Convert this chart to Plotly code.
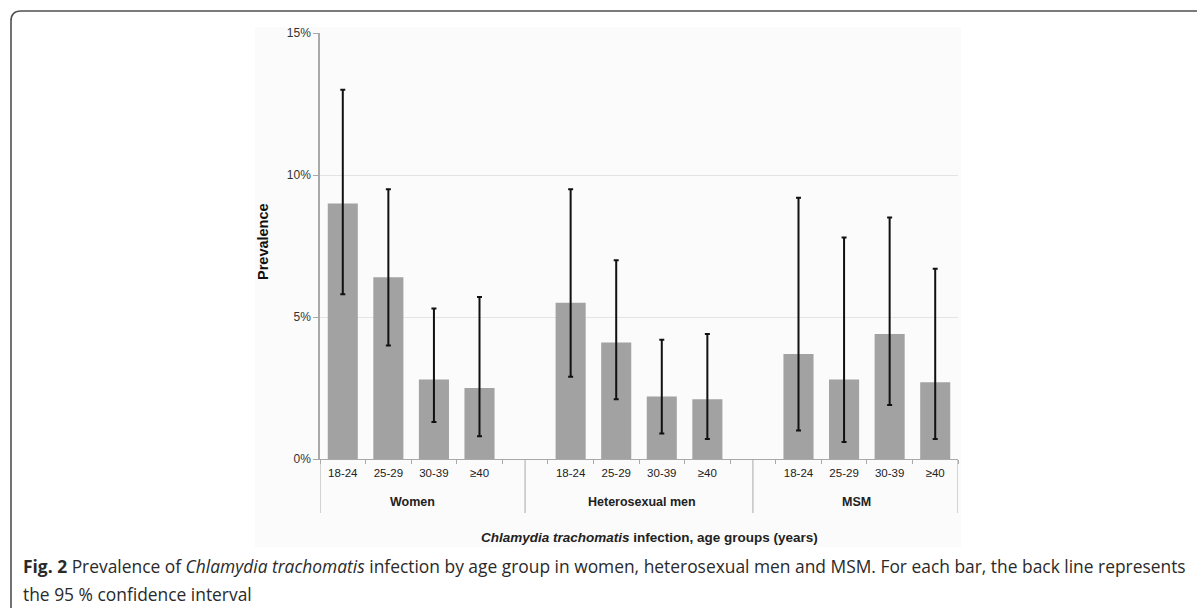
import plotly.graph_objects as go

# ---- data ----
groups = ["Women", "Heterosexual men", "MSM"]
age_groups = ["18-24", "25-29", "30-39", "≥40"]
women_prev = [9.0, 6.4, 2.8, 2.5]
women_lo = [5.8, 4.0, 1.3, 0.8]
women_hi = [13.0, 9.5, 5.3, 5.7]
het_prev = [5.5, 4.1, 2.2, 2.1]
het_lo = [2.9, 2.1, 0.9, 0.7]
het_hi = [9.5, 7.0, 4.2, 4.4]
msm_prev = [3.7, 2.8, 4.4, 2.7]
msm_lo = [1.0, 0.6, 1.9, 0.7]
msm_hi = [9.2, 7.8, 8.5, 6.7]
y_ticks = [0, 5, 10, 15]
y_ticktext = ["0%", "5%", "10%", "15%"]

# category slots: 4 bars, blank, 4 bars, blank, 4 bars
group_start = [0, 5, 10]
prev_all = women_prev + het_prev + msm_prev
lo_all = women_lo + het_lo + msm_lo
hi_all = women_hi + het_hi + msm_hi
xpos = [s + i for s in group_start for i in range(len(age_groups))]
labels = age_groups * len(groups)

# ---- figure geometry (pixels) ----
W, H = 1197, 608
L, R, T, B = 320, 958, 33, 459
pw, ph = R - L, B - T


def px(x):
    return (x - L) / pw


def py(y):
    return (B - y) / ph


FONT = "Arial, Liberation Sans, sans-serif"
AXIS_GREY = "#a9a9a9"

fig = go.Figure()
fig.add_trace(go.Bar(
    x=xpos, y=prev_all, width=0.66,
    marker=dict(color="#a2a2a2", line=dict(width=0)),
    error_y=dict(type="data", symmetric=False,
                 array=[h - v for h, v in zip(hi_all, prev_all)],
                 arrayminus=[v - l for v, l in zip(prev_all, lo_all)],
                 color="#111111", thickness=2, width=2.5),
    showlegend=False, hoverinfo="skip",
))

shapes = []
# faint chart background block
shapes.append(dict(type="rect", xref="paper", yref="paper", layer="below",
                   x0=px(255), x1=px(961), y0=py(547), y1=py(27),
                   fillcolor="#fbfbfb", line=dict(width=0)))
# outer rounded frame (top-left corner)
r = 10
path = (f"M {px(11)},{py(640)} L {px(11)},{py(11 + r)} "
        f"Q {px(11)},{py(11)} {px(11 + r)},{py(11)} L {px(1220)},{py(11)}")
shapes.append(dict(type="path", xref="paper", yref="paper", path=path,
                   line=dict(color="#505050", width=1.6)))
# group separators below the axis
for xv in [-0.5, 4, 9, 13.5]:
    shapes.append(dict(type="line", xref="x", yref="paper",
                       x0=xv, x1=xv, y0=0, y1=py(513),
                       line=dict(color=AXIS_GREY, width=1)))

annotations = []
group_label_x = [1.52, 6.57, 11.28]
for g, gx in zip(groups, group_label_x):
    annotations.append(dict(x=gx, xref="x", y=py(502), yref="paper",
                            text=f"<b>{g}</b>", showarrow=False,
                            font=dict(family=FONT, size=12.5, color="#222222"),
                            xanchor="center", yanchor="middle"))
annotations.append(dict(x=px(649), xref="paper", y=py(537), yref="paper",
                        text="<b><i>Chlamydia trachomatis</i> infection, age groups (years)</b>",
                        showarrow=False,
                        font=dict(family=FONT, size=13.5, color="#222222"),
                        xanchor="center", yanchor="middle"))
CAP_FONT = dict(family="Open Sans, Noto Sans, sans-serif", size=17.4, color="#2a2a2a")
annotations.append(dict(x=px(21), xref="paper", y=py(566), yref="paper",
                        text=("<b>Fig. 2</b> Prevalence of <i>Chlamydia trachomatis</i> infection by age group "
                              "in women, heterosexual men and MSM. For each bar, the back line represents"),
                        showarrow=False, font=CAP_FONT, xanchor="left", yanchor="middle"))
annotations.append(dict(x=px(21), xref="paper", y=py(594), yref="paper",
                        text="the 95 % confidence interval",
                        showarrow=False, font=CAP_FONT, xanchor="left", yanchor="middle"))
annotations.append(dict(x=px(263), xref="paper", y=py(242), yref="paper",
                        text="<b>Prevalence</b>", textangle=-90, showarrow=False,
                        font=dict(family=FONT, size=14.5, color="#111111"),
                        xanchor="center", yanchor="middle"))

fig.update_layout(
    width=W, height=H,
    margin=dict(l=L, r=W - R, t=T, b=H - B, pad=0),
    paper_bgcolor="white", plot_bgcolor="rgba(0,0,0,0)",
    bargap=0.34,
    shapes=shapes, annotations=annotations,
    xaxis=dict(range=[-0.5, 13.5], tickmode="array", tickvals=xpos, ticktext=labels,
               ticks="outside", ticklen=3, tickcolor="rgba(0,0,0,0)",
               tickfont=dict(family=FONT, size=11.5, color="#222222"),
               showline=True, linecolor=AXIS_GREY, linewidth=1,
               showgrid=False, zeroline=False, fixedrange=True,
               minor=dict(tickmode="linear", tick0=-0.5, dtick=1, ticks="outside",
                          ticklen=4, tickcolor=AXIS_GREY, showgrid=False)),
    yaxis=dict(range=[0, 15], tickmode="array", tickvals=y_ticks, ticktext=y_ticktext,
               ticks="outside", ticklen=5, tickcolor=AXIS_GREY,
               tickfont=dict(family=FONT, size=12, color="#333333"),
               showline=True, linecolor=AXIS_GREY, linewidth=1.5,
               showgrid=True, gridcolor="#e4e4e4", gridwidth=1,
               zeroline=False, fixedrange=True),
)

fig.write_html("out.html", config={"displayModeBar": False},
               post_script="document.body.style.margin='0';document.body.style.overflow='hidden';")
